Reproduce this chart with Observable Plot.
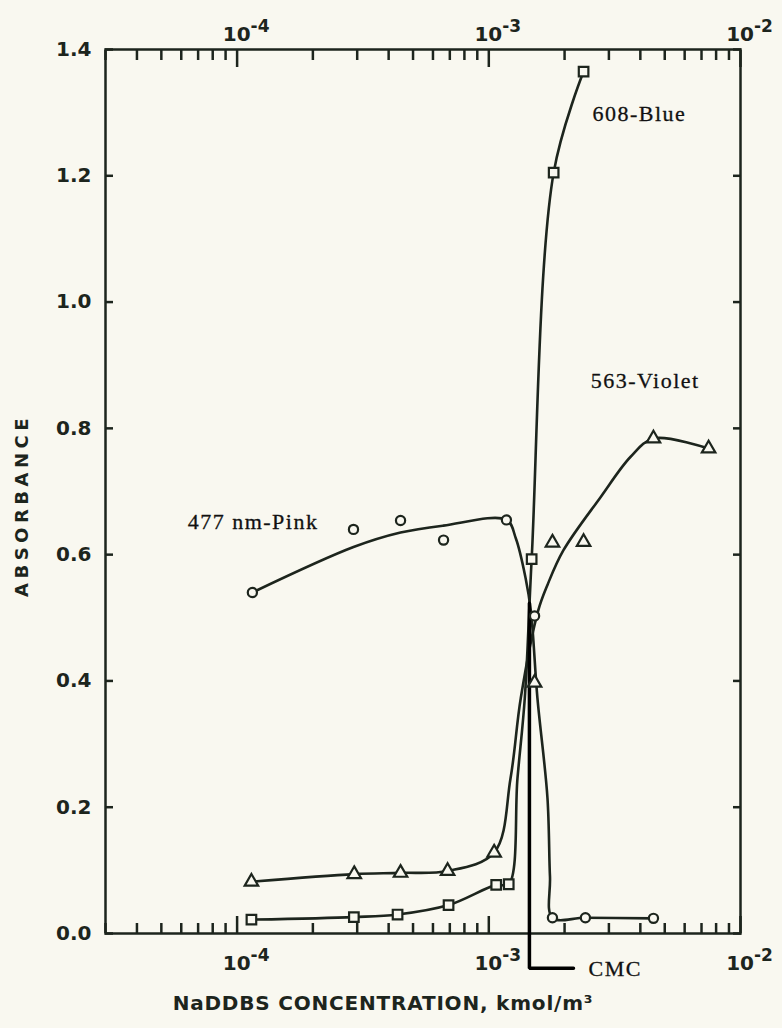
<!DOCTYPE html>
<html>
<head>
<meta charset="utf-8">
<script src="https://cdn.jsdelivr.net/npm/d3@7"></script>
<script src="https://cdn.jsdelivr.net/npm/@observablehq/plot@0.6"></script>
<style>
  html, body { margin: 0; padding: 0; background: #f9f8f0; }
  #chart svg { display: block; }
</style>
</head>
<body>
<div id="chart"></div>
<script>
// ---- measured points (NaDDBS concentration in kmol/m3, absorbance) ----
const pinkConc   = [1.15e-4, 2.9e-4, 4.46e-4, 6.61e-4, 1.175e-3, 1.52e-3, 1.79e-3, 2.42e-3, 4.51e-3];
const pinkAbs    = [0.540, 0.640, 0.654, 0.623, 0.655, 0.503, 0.025, 0.025, 0.024];
const blueConc   = [1.14e-4, 2.91e-4, 4.34e-4, 6.92e-4, 1.07e-3, 1.20e-3, 1.48e-3, 1.81e-3, 2.38e-3];
const blueAbs    = [0.022, 0.026, 0.030, 0.045, 0.077, 0.078, 0.593, 1.205, 1.365];
const violetConc = [1.14e-4, 2.92e-4, 4.46e-4, 6.86e-4, 1.05e-3, 1.52e-3, 1.79e-3, 2.38e-3, 4.51e-3, 7.47e-3];
const violetAbs  = [0.082, 0.094, 0.096, 0.099, 0.128, 0.397, 0.619, 0.620, 0.784, 0.768];

// ---- hand-drawn smooth curves ----
const pinkCurveConc   = [1.15e-4, 2.9e-4, 4.46e-4, 6.6e-4, 1.175e-3, 1.28e-3, 1.40e-3, 1.47e-3, 1.56e-3, 1.71e-3, 1.75e-3, 1.79e-3, 2.42e-3, 4.51e-3];
const pinkCurveAbs    = [0.540, 0.612, 0.635, 0.646, 0.655, 0.626, 0.563, 0.510, 0.373, 0.215, 0.090, 0.025, 0.025, 0.024];
const blueCurveConc   = [1.14e-4, 2.91e-4, 4.34e-4, 6.92e-4, 1.07e-3, 1.20e-3, 1.30e-3, 1.39e-3, 1.48e-3, 1.81e-3, 2.38e-3];
const blueCurveAbs    = [0.022, 0.026, 0.030, 0.045, 0.077, 0.078, 0.246, 0.373, 0.593, 1.205, 1.365];
const violetCurveConc = [1.14e-4, 2.92e-4, 4.46e-4, 6.86e-4, 1.05e-3, 1.22e-3, 1.34e-3, 1.57e-3, 1.71e-3, 1.98e-3, 2.78e-3, 3.66e-3, 4.51e-3, 7.47e-3];
const violetCurveAbs  = [0.082, 0.094, 0.096, 0.099, 0.128, 0.246, 0.373, 0.511, 0.552, 0.607, 0.691, 0.755, 0.784, 0.768];

// ---- CMC marker ----
const cmcConc = [1.45e-3, 1.45e-3, 2.17e-3];
const cmcAbs  = [0.523, -0.055, -0.055];

// ---- annotations ----
const seriesLabels = ["608-Blue", "563-Violet", "477 nm-Pink", "CMC"];
const seriesLabelConc = [2.58e-3, 2.54e-3, 6.36e-5, 2.49e-3];
const seriesLabelAbs  = [1.298, 0.875, 0.652, -0.056];

// ---- axes ----
const yTicks = [0, 0.2, 0.4, 0.6, 0.8, 1.0, 1.2, 1.4];
const xMajor = [1e-4, 1e-3, 1e-2];
const xMinor = [3e-5, 4e-5, 5e-5, 6e-5, 7e-5, 8e-5, 9e-5,
                2e-4, 3e-4, 4e-4, 5e-4, 6e-4, 7e-4, 8e-4, 9e-4,
                2e-3, 3e-3, 4e-3, 5e-3, 6e-3, 7e-3, 8e-3, 9e-3];
const xLabel = "NaDDBS CONCENTRATION, kmol/m³";
const yLabel = "ABSORBANCE";

const ink = "#1d251d";
const paper = "#f9f8f0";
const supMap = {"-": "⁻", "0": "⁰", "1": "¹", "2": "²", "3": "³", "4": "⁴", "5": "⁵", "6": "⁶", "7": "⁷", "8": "⁸", "9": "⁹"};
const unSup = Object.fromEntries(Object.entries(supMap).map(([k, v]) => [v, k]));
const fmtPow = d => "10" + String(Math.round(Math.log10(d))).split("").map(c => supMap[c]).join("");

const pts = (xs, ys) => xs.map((x, i) => ({x, y: ys[i]}));
const labels = seriesLabels.map((t, i) => ({t, x: seriesLabelConc[i], y: seriesLabelAbs[i]}));

const sansBold = "'DejaVu Sans', sans-serif";

const plot = Plot.plot({
  width: 782,
  height: 1028,
  marginTop: 49,
  marginRight: 42,
  marginBottom: 95,
  marginLeft: 105,
  style: {background: "transparent", fontFamily: sansBold, fontWeight: "bold", color: ink, overflow: "visible"},
  x: {type: "log", domain: [3e-5, 1e-2], axis: null},
  y: {domain: [0, 1.4], axis: null},
  marks: [
    // y axis: labels + inward ticks on both sides
    Plot.axisY(yTicks, {anchor: "left", label: null, tickSize: 0, tickPadding: 14, tickFormat: d3.format(".1f"), fontSize: 20, fontWeight: "bold"}),
    Plot.axisY(yTicks, {anchor: "left", label: null, tickSize: -8, tickFormat: () => "", strokeWidth: 2.5}),
    Plot.axisY(yTicks, {anchor: "right", label: null, tickSize: -8, tickFormat: () => "", strokeWidth: 2.5}),
    // x axes top & bottom: labels, major and minor inward ticks
    Plot.axisX(xMajor, {anchor: "bottom", label: null, tickSize: 0, tickPadding: 22, tickFormat: fmtPow, fontSize: 20, fontWeight: "bold", dx: 9}),
    Plot.axisX(xMajor, {anchor: "top", label: null, tickSize: 0, tickPadding: 9, tickFormat: fmtPow, fontSize: 20, fontWeight: "bold", dx: 9}),
    Plot.axisX(xMajor, {anchor: "bottom", label: null, tickSize: -17, tickFormat: () => "", strokeWidth: 2.5}),
    Plot.axisX(xMajor, {anchor: "top", label: null, tickSize: -17, tickFormat: () => "", strokeWidth: 2.5}),
    Plot.axisX(xMinor, {anchor: "bottom", label: null, tickSize: -10, tickFormat: () => "", strokeWidth: 2.5}),
    Plot.axisX(xMinor, {anchor: "top", label: null, tickSize: -10, tickFormat: () => "", strokeWidth: 2.5}),
    Plot.frame({stroke: ink, strokeWidth: 2.5}),
    // axis titles
    Plot.text([xLabel], {frameAnchor: "bottom", dx: -40, dy: 70, fontSize: 20, fontWeight: "bold", fill: ink, textAnchor: "middle", lineAnchor: "middle"}),
    Plot.text([yLabel], {frameAnchor: "left", dx: -83, dy: 14, rotate: -90, fontSize: 18, fontWeight: "bold", fill: ink, textAnchor: "middle", lineAnchor: "middle"}),
    // smooth curves
    Plot.line(pts(pinkCurveConc, pinkCurveAbs), {x: "x", y: "y", curve: "catmull-rom", stroke: ink, strokeWidth: 2.6}),
    Plot.line(pts(blueCurveConc, blueCurveAbs), {x: "x", y: "y", curve: "catmull-rom", stroke: ink, strokeWidth: 2.6}),
    Plot.line(pts(violetCurveConc, violetCurveAbs), {x: "x", y: "y", curve: "catmull-rom", stroke: ink, strokeWidth: 2.6}),
    // CMC marker line
    Plot.line(pts(cmcConc, cmcAbs), {x: "x", y: "y", stroke: "#000", strokeWidth: 3.5, strokeLinejoin: "miter"}),
    // data points
    Plot.dot(pts(pinkConc, pinkAbs), {x: "x", y: "y", symbol: "circle", r: 4.6, stroke: ink, strokeWidth: 2.2, fill: paper}),
    Plot.dot(pts(blueConc, blueAbs), {x: "x", y: "y", symbol: "square", r: 5.4, stroke: ink, strokeWidth: 2.2, fill: paper}),
    Plot.dot(pts(violetConc, violetAbs), {x: "x", y: "y", symbol: "triangle", r: 5, stroke: ink, strokeWidth: 2.2, fill: paper}),
    // series labels
    Plot.text(labels, {x: "x", y: "y", text: "t", textAnchor: "start", lineAnchor: "middle", fontFamily: "'Liberation Serif', 'Times New Roman', serif", fontWeight: "normal", fontSize: 22, fill: "#111", stroke: "#111", strokeWidth: 0.3})
  ]
});

// text tweaks: letter spacing and real superscripts on the power-of-ten tick labels
const allText = d3.select(plot).selectAll("text");
allText.filter(function () { return this.textContent === xLabel; }).style("letter-spacing", "0.8px");
allText.filter(function () { return this.textContent === yLabel; }).style("letter-spacing", "4.5px");
allText.filter(function () { return seriesLabels.includes(this.textContent); }).style("letter-spacing", "1.5px");
allText.filter(function () { return /^10[⁻⁰¹²³⁴⁵⁶⁷⁸⁹]+$/.test(this.textContent); }).each(function () {
  const exp = this.textContent.slice(2).split("").map(c => unSup[c]).join("");
  const t = d3.select(this);
  t.text(null);
  t.append("tspan").text("10");
  t.append("tspan").attr("dy", "-0.5em").attr("font-size", "0.85em").text(exp);
});

document.getElementById("chart").appendChild(plot);
</script>
</body>
</html>
